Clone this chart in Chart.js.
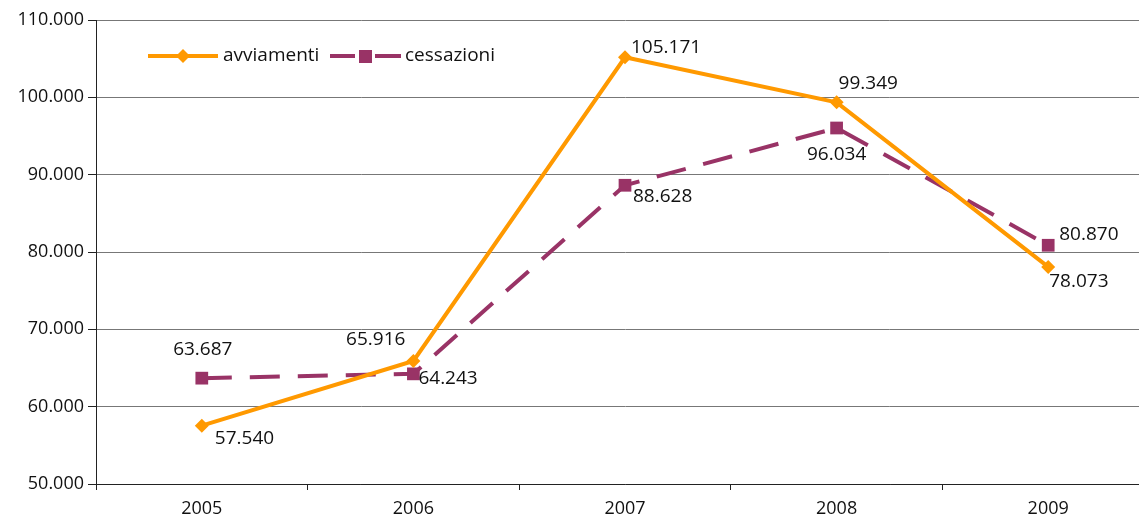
<!DOCTYPE html>
<html>
<head>
<meta charset="utf-8">
<script src="https://cdn.jsdelivr.net/npm/chart.js@4.4.1/dist/chart.umd.min.js"></script>
<style>
html,body{margin:0;padding:0;background:#fff;overflow:hidden;}
#wrap{width:1163px;height:520px;position:relative;}
</style>
</head>
<body>
<div id="wrap"><canvas id="c" width="1163" height="520"></canvas></div>
<script>
const categories = ['2005','2006','2007','2008','2009'];
const avviamenti = [57540, 65916, 105171, 99349, 78073];
const cessazioni = [63687, 64243, 88628, 96034, 80870];
const seriesNames = ['avviamenti','cessazioni'];
const yTicks = [50000,60000,70000,80000,90000,100000,110000];

// label placement: [dx, dy, align]
const labelPlace = [
  [[13,13,'left'],[-8,-21,'right'],[6,-10,'left'],[2,-19,'left'],[1,15,'left']],
  [[1,-29,'center'],[5,5,'left'],[8,11,'left'],[0,27,'center'],[11,-11,'left']]
];

const FONT = '"Open Sans", "DejaVu Sans", sans-serif';
const fmt = v => v.toLocaleString('it-IT');

const labelsPlugin = {
  id: 'dlabels',
  afterDatasetsDraw(chart) {
    const ctx = chart.ctx;
    ctx.save();
    ctx.font = '19px ' + FONT;
    ctx.fillStyle = '#111';
    ctx.textBaseline = 'middle';
    chart.data.datasets.forEach((ds, i) => {
      const meta = chart.getDatasetMeta(i);
      meta.data.forEach((pt, j) => {
        const p = labelPlace[i][j];
        ctx.textAlign = p[2];
        ctx.fillText(fmt(ds.data[j]), pt.x + p[0], pt.y + p[1]);
      });
    });
    ctx.restore();
  }
};

const legendPlugin = {
  id: 'customLegend',
  afterDraw(chart) {
    const ctx = chart.ctx;
    ctx.save();
    const y = 56;
    ctx.strokeStyle = '#FF9900';
    ctx.lineWidth = 4;
    ctx.beginPath(); ctx.moveTo(148, y); ctx.lineTo(218, y); ctx.stroke();
    ctx.fillStyle = '#FF9900';
    ctx.beginPath(); ctx.moveTo(183, y-7); ctx.lineTo(190, y); ctx.lineTo(183, y+7); ctx.lineTo(176, y); ctx.closePath(); ctx.fill();
    ctx.strokeStyle = '#993366';
    ctx.beginPath(); ctx.moveTo(330, y); ctx.lineTo(355, y); ctx.stroke();
    ctx.beginPath(); ctx.moveTo(375, y); ctx.lineTo(401, y); ctx.stroke();
    ctx.fillStyle = '#993366';
    ctx.fillRect(359, y-6, 13, 13);
    ctx.font = '19px ' + FONT;
    ctx.fillStyle = '#111';
    ctx.textBaseline = 'middle';
    ctx.textAlign = 'left';
    ctx.fillText(seriesNames[0], 223, y);
    ctx.fillText(seriesNames[1], 405, y);
    ctx.restore();
  }
};

new Chart(document.getElementById('c'), {
  type: 'line',
  data: {
    labels: categories,
    datasets: [
      {
        label: seriesNames[0],
        data: avviamenti,
        borderColor: '#FF9900',
        backgroundColor: '#FF9900',
        borderWidth: 4,
        pointStyle: 'rectRot',
        pointRadius: 7,
        pointBorderWidth: 0,
        tension: 0
      },
      {
        label: seriesNames[1],
        data: cessazioni,
        borderColor: '#993366',
        backgroundColor: '#993366',
        borderWidth: 4,
        borderDash: [30, 18],
        pointStyle: 'rect',
        pointRadius: 9,
        pointBorderWidth: 0,
        tension: 0
      }
    ]
  },
  options: {
    responsive: false,
    animation: false,
    devicePixelRatio: 1,
    layout: { padding: { top: 20, left: 0, right: 0, bottom: 0 } },
    plugins: { legend: { display: false }, tooltip: { enabled: false } },
    scales: {
      x: {
        offset: true,
        grid: { offset: true, drawOnChartArea: false, drawTicks: true, tickLength: 6, color: '#222', lineWidth: 1 },
        border: { display: true, color: '#222', width: 1 },
        ticks: { font: { size: 18, family: FONT }, color: '#111', padding: 8 },
        afterFit(s) { s.height = 36; }
      },
      y: {
        min: 50000, max: 110000,
        afterBuildTicks(s) { s.ticks = yTicks.map(v => ({ value: v })); },
        grid: { color: '#777', lineWidth: 1, tickLength: 8, tickColor: '#222' },
        border: { display: true, color: '#222', width: 1 },
        ticks: { font: { size: 18, family: FONT }, color: '#111', padding: 4, callback: v => fmt(v) },
        afterFit(s) { s.width = 96; }
      }
    }
  },
  plugins: [labelsPlugin, legendPlugin]
});
</script>
</body>
</html>
